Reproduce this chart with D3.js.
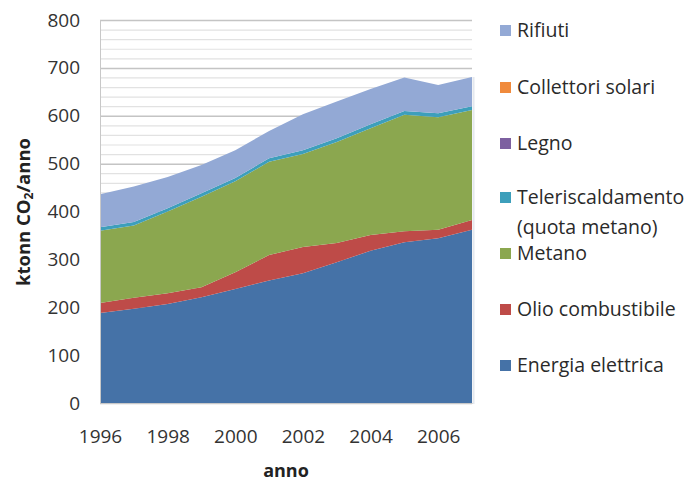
<!DOCTYPE html>
<html><head><meta charset="utf-8">
<script src="https://cdn.jsdelivr.net/npm/d3@7"></script>
<style>body{margin:0;background:#fff;} svg{display:block;}</style>
</head><body>
<svg id="c" width="687" height="484"></svg>
<script>
const years = [1996,1997,1998,1999,2000,2001,2002,2003,2004,2005,2006,2007];
const energiaElettrica = [188,197,207,221,238,256,271,294,318,336,344,362];
const olioCombustibile = [21,23,22,21,35,53,55,40,33,23,18,20];
const metano = [151,151,171,189,190,195,194,211,223,243,235,230];
const teleriscaldamento = [7,7,7,7,7,7,8,8,8,8,8,8];
const legno = [0,0,0,0,0,0,0,0,0,0,0,0];
const collettoriSolari = [0,0,0,0,0,0,0,0,0,0,0,0];
const rifiuti = [69,74,65,59,58,57,75,77,74,70,59,61];
const yTicks = [0,100,200,300,400,500,600,700,800];
const xTicks = [1996,1998,2000,2002,2004,2006];

const series = [
  {key:"Energia elettrica", values:energiaElettrica, color:"#4572a7"},
  {key:"Olio combustibile", values:olioCombustibile, color:"#be4b48"},
  {key:"Metano", values:metano, color:"#8ba74f"},
  {key:"Teleriscaldamento", values:teleriscaldamento, color:"#3d9fbb"},
  {key:"Legno", values:legno, color:"#7d60a0"},
  {key:"Collettori solari", values:collettoriSolari, color:"#f08a3c"},
  {key:"Rifiuti", values:rifiuti, color:"#93a9d5"}
];

const svg = d3.select("#c");
const L=100, R=472, T=20, B=403;
const x = d3.scaleLinear().domain([1996,2007]).range([L,R]);
const y = d3.scaleLinear().domain([0,800]).range([B,T]);
const font = "'Open Sans', sans-serif";

// grid
svg.append("g").selectAll("line").data(d3.range(0,801,20)).join("line")
  .attr("x1",L).attr("x2",R).attr("y1",d=>y(d)+0.5).attr("y2",d=>y(d)+0.5)
  .attr("stroke",d=>d%100===0?"#c4c4c4":"#e2e2e2").attr("stroke-width",d=>d%100===0?1.5:1.2);

const table = years.map((yr,i)=>{const o={year:yr}; series.forEach(s=>o[s.key]=s.values[i]); return o;});
const stack = d3.stack().keys(series.map(s=>s.key))(table);
const area = d3.area().x(d=>x(d.data.year)).y0(d=>y(d[0])).y1(d=>y(d[1]));
svg.append("g").selectAll("path").data(stack).join("path")
  .attr("d",area).attr("fill",(d,i)=>series[i].color);

svg.append("line").attr("x1",L+0.5).attr("x2",L+0.5).attr("y1",T).attr("y2",B+1).attr("stroke","#c8c8c8");
svg.append("line").attr("x1",L).attr("x2",R+1).attr("y1",B+0.5).attr("y2",B+0.5).attr("stroke","#c8c8c8");
svg.append("line").attr("x1",R+1.5).attr("x2",R+1.5).attr("y1",y(681)).attr("y2",B+1).attr("stroke","#e4e8ee").attr("stroke-width",2);

// y axis
const ya = svg.append("g").attr("transform",`translate(${L},0)`)
  .call(d3.axisLeft(y).tickValues(yTicks).tickSize(0).tickPadding(20));
ya.select(".domain").remove();
ya.selectAll("text").attr("font-family",font).attr("font-size",19).attr("fill","#333");

// x axis
const xa = svg.append("g").attr("transform",`translate(0,${B})`)
  .call(d3.axisBottom(x).tickValues(xTicks).tickFormat(d3.format("d")).tickSize(0).tickPadding(27));
xa.select(".domain").remove();
xa.selectAll("text").attr("font-family",font).attr("font-size",19).attr("fill","#333");

svg.append("text").attr("x",286).attr("y",477).attr("text-anchor","middle")
  .attr("font-family",font).attr("font-size",18).attr("font-weight","bold").attr("fill","#222").text("anno");

const yl = svg.append("text").attr("transform","translate(30,212) rotate(-90)").attr("text-anchor","middle")
  .attr("font-family",font).attr("font-size",18.5).attr("font-weight","bold").attr("fill","#222");
yl.append("tspan").text("ktonn CO");
yl.append("tspan").attr("font-size",12).attr("dy",3).text("2");
yl.append("tspan").attr("dy",-3).text("/anno");

// legend
const legendItems = [
  {label:["Rifiuti"], color:"#93a9d5", y:30},
  {label:["Collettori solari"], color:"#f08a3c", y:87},
  {label:["Legno"], color:"#7d60a0", y:143},
  {label:["Teleriscaldamento","(quota metano)"], color:"#3d9fbb", y:197},
  {label:["Metano"], color:"#8ba74f", y:253},
  {label:["Olio combustibile"], color:"#be4b48", y:309},
  {label:["Energia elettrica"], color:"#4572a7", y:365}
];
const lg = svg.append("g");
legendItems.forEach(it=>{
  lg.append("rect").attr("x",500).attr("y",it.y-5).attr("width",11).attr("height",11).attr("fill",it.color);
  it.label.forEach((t,j)=>{
    lg.append("text").attr("x",517).attr("y",it.y+7+j*30).attr("font-family",font).attr("font-size",19.5)
      .attr("fill","#2a2a2a").text(t);
  });
});
</script>
</body></html>
